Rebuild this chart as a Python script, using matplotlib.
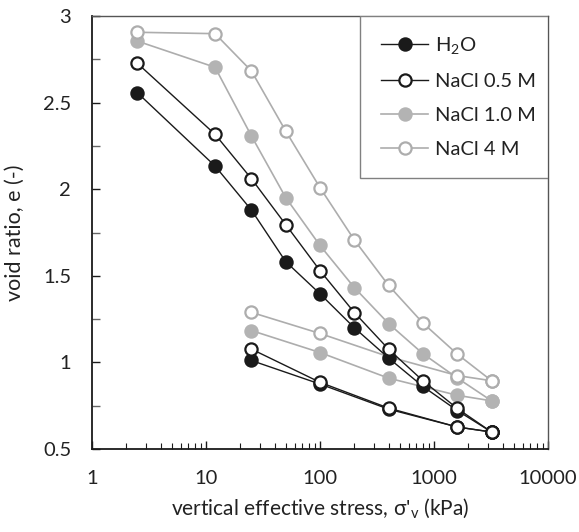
import matplotlib
matplotlib.use("Agg")
import matplotlib.pyplot as plt
from matplotlib.ticker import FixedLocator, NullFormatter, LogLocator
from matplotlib.patches import Rectangle
import numpy as np

plt.rcParams['font.family'] = ['Lato', 'DejaVu Sans']
plt.rcParams['mathtext.fontset'] = 'custom'
plt.rcParams['mathtext.rm'] = 'Lato'
plt.rcParams['mathtext.it'] = 'Lato'

# loading path stresses (kPa)
load_stress = [2.5, 12, 25, 50, 100, 200, 400, 800, 1600, 3200]
# unloading path stresses (kPa)
unload_stress = [3200, 1600, 400, 100, 25]

h2o_load = [2.557, 2.134, 1.880, 1.582, 1.396, 1.200, 1.025, 0.861, 0.722, 0.598]
h2o_unload = [0.598, 0.627, 0.730, 0.875, 1.011]

nacl05_load = [2.727, 2.317, 2.061, 1.796, 1.530, 1.288, 1.076, 0.894, 0.734, 0.598]
nacl05_unload = [0.598, 0.627, 0.736, 0.885, 1.077]

nacl10_load = [2.855, 2.704, 2.308, 1.952, 1.675, 1.432, 1.224, 1.050, 0.910, 0.778]
nacl10_unload = [0.778, 0.810, 0.909, 1.057, 1.184]

nacl4_load = [2.906, 2.898, 2.683, 2.336, 2.009, 1.707, 1.444, 1.227, 1.048, 0.894]
nacl4_unload = [0.894, 0.924, 1.033, 1.167, 1.289]

labels = ['H$_2$O', 'NaCl 0.5 M', 'NaCl 1.0 M', 'NaCl 4 M']

BLACK = '#1a1a1a'
GRAY = '#adadad'
GRAYL = '#b3b3b3'

fig = plt.figure(figsize=(5.79, 5.32), dpi=100)
ax = fig.add_axes([92/579, 1-449/532, (548-92)/579, (449-16)/532])

styles = [
    dict(color=BLACK, mfc=BLACK, mec=BLACK, lw=1.0),
    dict(color=BLACK, mfc='white', mec=BLACK, lw=1.0),
    dict(color=GRAY, mfc=GRAYL, mec=GRAYL, lw=1.2),
    dict(color=GRAY, mfc='white', mec=GRAY, lw=1.2),
]
series = [(h2o_load, h2o_unload), (nacl05_load, nacl05_unload),
          (nacl10_load, nacl10_unload), (nacl4_load, nacl4_unload)]

zorders = [3, 4, 1, 2]
handles = []
for (ld, ul), st, lab, z in zip(series, styles, labels, zorders):
    kw = dict(marker='o', ms=8.8, mew=1.6, color=st['color'], mfc=st['mfc'],
              mec=st['mec'], lw=st['lw'], zorder=z)
    h, = ax.plot(load_stress, ld, label=lab, **kw)
    ax.plot(unload_stress, ul, **kw)
    handles.append(h)

ax.set_xscale('log')
ax.set_xlim(1, 10000)
ax.set_ylim(0.5, 3)
ax.xaxis.set_major_locator(FixedLocator([1, 10, 100, 1000, 10000]))
ax.set_xticklabels(['1', '10', '100', '1000', '10000'])
ax.xaxis.set_minor_locator(LogLocator(base=10, subs=np.arange(2, 10)))
ax.xaxis.set_minor_formatter(NullFormatter())
ax.set_yticks([0.5, 1, 1.5, 2, 2.5, 3])
ax.set_yticklabels(['0.5', '1', '1.5', '2', '2.5', '3'])
ax.set_yticks(np.arange(0.75, 3, 0.5), minor=True)

ax.tick_params(axis='both', which='both', direction='in', labelsize=14.5, color=BLACK,
               labelcolor='#222222')
ax.tick_params(axis='x', which='major', length=6, width=1, pad=15)
ax.tick_params(axis='x', which='minor', length=4, width=0.8)
ax.tick_params(axis='y', which='major', length=6, width=1, pad=15)
ax.tick_params(axis='y', which='minor', length=6, width=1, color='#666666')

for s in ['left', 'bottom']:
    ax.spines[s].set_color(BLACK)
    ax.spines[s].set_linewidth(1.3)
for s in ['top', 'right']:
    ax.spines[s].set_color('#555555')
    ax.spines[s].set_linewidth(1.0)

ax.set_xlabel("vertical effective stress, σ'$_\\mathregular{v}$ (kPa)", fontsize=15,
              labelpad=7, color='#222222')
ax.set_ylabel('void ratio, e (-)', fontsize=15.5, labelpad=13, color='#222222')

# legend frame (drawn separately so that it sits in the corner like the original)
fx0 = (360 - 92) / 456
fy0 = 1 - (178 - 16) / 433
ax.add_patch(Rectangle((fx0, fy0), 1 - fx0, 1 - fy0, transform=ax.transAxes,
                       facecolor='white', edgecolor='#808080', lw=1.0, zorder=5))

leg = ax.legend(handles=handles, loc='upper left',
                bbox_to_anchor=((381 - 92) / 456, 1 - (35 - 16) / 433),
                fontsize=14.5, frameon=False, borderaxespad=0, borderpad=0,
                handlelength=2.35, handletextpad=0.33, labelspacing=0.84)
leg.set_zorder(6)
for t in leg.get_texts():
    t.set_color('#222222')

fig.savefig('out.png', dpi=100)
